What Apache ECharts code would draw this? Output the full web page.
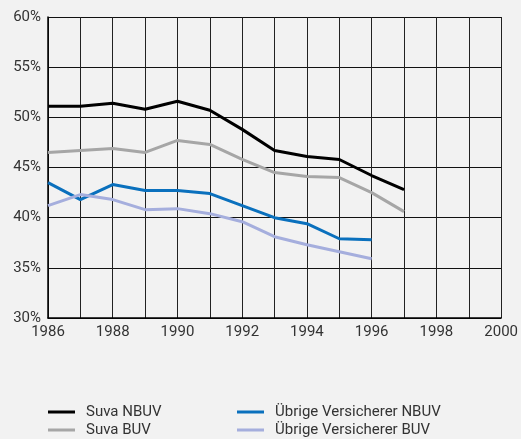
<!DOCTYPE html>
<html>
<head>
<meta charset="utf-8">
<script src="https://cdn.jsdelivr.net/npm/echarts@6/dist/echarts.min.js"></script>
<style>
  html, body { margin: 0; padding: 0; background: #f2f2f2; }
  #chart { width: 521px; height: 439px; }
</style>
</head>
<body>
<div id="chart"></div>
<script>
// Jahre und Anteile (%)
var years = [1986, 1987, 1988, 1989, 1990, 1991, 1992, 1993, 1994, 1995, 1996, 1997];
var suvaNBUV = [51.1, 51.1, 51.4, 50.8, 51.6, 50.7, 48.8, 46.7, 46.1, 45.8, 44.2, 42.8];
var suvaBUV = [46.5, 46.7, 46.9, 46.5, 47.7, 47.3, 45.8, 44.5, 44.1, 44.0, 42.5, 40.6];
var uebrigeNBUV = [43.5, 41.8, 43.3, 42.7, 42.7, 42.4, 41.2, 40.0, 39.4, 37.9, 37.8];
var uebrigeBUV = [41.2, 42.3, 41.8, 40.8, 40.9, 40.4, 39.6, 38.1, 37.3, 36.6, 35.9];

function pairs(vals) {
  var out = [];
  for (var i = 0; i < vals.length; i++) {
    out.push([years[i], vals[i]]);
  }
  return out;
}

var font = 'Roboto, "Liberation Sans", sans-serif';
var myChart = echarts.init(document.getElementById('chart'));

function legendAt(left, names) {
  return {
    orient: 'vertical',
    left: left,
    top: 403,
    height: 36,
    padding: 0,
    itemWidth: 27,
    itemHeight: 3,
    itemGap: 0,
    icon: 'rect',
    textStyle: { fontFamily: font, fontSize: 15, lineHeight: 18, color: '#333', padding: [0, 0, 0, 6] },
    data: names
  };
}

var option = {
  backgroundColor: '#f2f2f2',
  animation: false,
  grid: {
    left: 48,
    right: 19,
    top: 17,
    bottom: 121
  },
  legend: [
    legendAt(48, ['Suva NBUV', 'Suva BUV']),
    legendAt(237, ['Übrige Versicherer NBUV', 'Übrige Versicherer BUV'])
  ],
  xAxis: {
    type: 'value',
    min: 1986,
    max: 2000,
    interval: 1,
    axisLine: { show: true, lineStyle: { color: '#000', width: 1.5 } },
    axisTick: { show: false },
    axisLabel: {
      fontFamily: font,
      fontSize: 15,
      color: '#333',
      margin: 7,
      formatter: function (v) { return v % 2 === 0 ? String(v) : ''; }
    },
    splitLine: { show: true, lineStyle: { color: '#222', width: 1 } }
  },
  yAxis: {
    type: 'value',
    min: 30,
    max: 60,
    interval: 5,
    axisLine: { show: true, lineStyle: { color: '#000', width: 1.5 } },
    axisTick: { show: false },
    axisLabel: {
      fontFamily: font,
      fontSize: 15,
      color: '#333',
      margin: 7,
      formatter: '{value}%'
    },
    splitLine: { show: true, lineStyle: { color: '#111', width: 1.2 } }
  },
  series: [
    {
      name: 'Suva NBUV',
      type: 'line',
      data: pairs(suvaNBUV),
      showSymbol: false,
      color: '#000000',
      lineStyle: { width: 3 }
    },
    {
      name: 'Suva BUV',
      type: 'line',
      data: pairs(suvaBUV),
      showSymbol: false,
      color: '#a6a6a6',
      lineStyle: { width: 3 }
    },
    {
      name: 'Übrige Versicherer NBUV',
      type: 'line',
      data: pairs(uebrigeNBUV),
      showSymbol: false,
      color: '#0a70bd',
      lineStyle: { width: 3 }
    },
    {
      name: 'Übrige Versicherer BUV',
      type: 'line',
      data: pairs(uebrigeBUV),
      showSymbol: false,
      color: '#a5aedd',
      lineStyle: { width: 3 }
    }
  ]
};
myChart.setOption(option);
</script>
</body>
</html>
